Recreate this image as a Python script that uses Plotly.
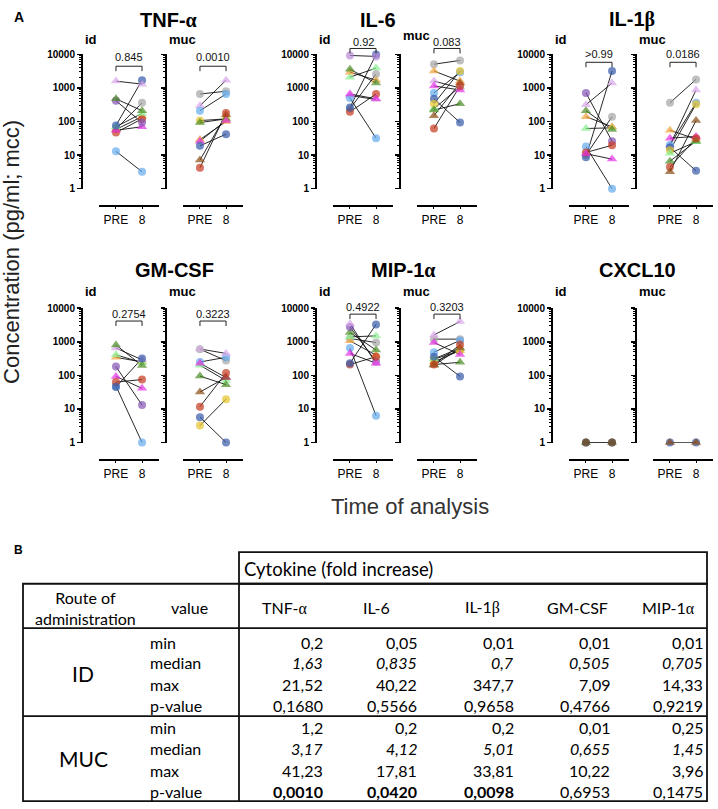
import plotly.graph_objects as go

W, H = 718, 809
TIMES = ["PRE", "8"]
ROUTES = ["id", "muc"]
Y_TICKS = [1, 10, 100, 1000, 10000]
Y_TICKTEXT = ["1", "10", "100", "1000", "10000"]
Y_MINOR = [m * d for d in [1, 10, 100, 1000] for m in range(2, 10)]

# subject marker styles (colour, symbol)
STYLE = {
    "lilacT": ("#D9A6EA", "triangle-up"),
    "lilacC": ("#B98AD9", "circle"),
    "dblue": ("#3558A8", "circle"),
    "gray": ("#A5A5A5", "circle"),
    "green": ("#4B8B23", "triangle-up"),
    "orange": ("#F2A13A", "triangle-up"),
    "magenta": ("#E632E6", "triangle-up"),
    "purple": ("#8452B5", "circle"),
    "red": ("#C4391E", "circle"),
    "lblue": ("#62A9EE", "circle"),
    "lgreen": ("#86F08E", "triangle-up"),
    "brown": ("#8A4B14", "triangle-up"),
    "brownC": ("#7A4A14", "circle"),
    "yellow": ("#E5C32A", "circle"),
}

PANEL_TITLES = ["TNF-α", "IL-6", "IL-1β", "GM-CSF", "MIP-1α", "CXCL10"]
P_ID = ["0.845", "0.92", ">0.99", "0.2754", "0.4922", None]
P_MUC = ["0.0010", "0.083", "0.0186", "0.3223", "0.3203", None]

# ---- TNF-alpha
TNF_ID_SUBJ = ["gray", "orange", "lblue", "red", "magenta", "lgreen", "purple", "green", "dblue", "lilacT"]
TNF_ID_PRE = [60, 58, 13, 47, 55, 70, 415, 475, 76, 1600]
TNF_ID_POST = [360, 140, 3.2, 120, 70, 175, 93, 210, 1700, 1300]
TNF_MUC_SUBJ = ["gray", "lilacT", "lblue", "yellow", "green", "orange", "magenta", "dblue", "brown", "red"]
TNF_MUC_PRE = [660, 295, 210, 107, 93, 29, 26, 19, 7.1, 4.2]
TNF_MUC_POST = [800, 1700, 660, 120, 120, 100, 108, 42, 160, 180]
# ---- IL-6
IL6_ID_SUBJ = ["gray", "lilacT", "lblue", "red", "dblue", "magenta", "lgreen", "orange", "green", "lilacC"]
IL6_ID_PRE = [240, 600, 500, 195, 260, 660, 2100, 2950, 3600, 9300]
IL6_ID_POST = [2600, 450, 32, 660, 10000, 475, 3900, 1700, 1400, 8700]
IL6_MUC_SUBJ = ["lgreen", "gray", "orange", "lilacT", "magenta", "lblue", "dblue", "yellow", "green", "brown", "red"]
IL6_MUC_PRE = [240, 5100, 3200, 1600, 1150, 710, 475, 340, 220, 150, 62]
IL6_MUC_POST = [1100, 6600, 1600, 1000, 870, 2950, 93, 3200, 340, 1400, 1150]
# ---- IL-1beta
IL1B_ID_SUBJ = ["gray", "lgreen", "orange", "green", "lilacT", "purple", "lblue", "dblue", "red", "magenta"]
IL1B_ID_PRE = [10, 62, 140, 210, 315, 710, 18, 8.7, 12, 11]
IL1B_ID_POST = [140, 65, 70, 58, 1400, 26, 1, 3200, 19.6, 7.6]
IL1B_MUC_SUBJ = ["lilacT", "gray", "orange", "magenta", "lblue", "dblue", "yellow", "lgreen", "green", "red", "brown"]
IL1B_MUC_PRE = [20, 360, 55, 32, 20, 17, 14, 11.4, 6.6, 4.4, 3.2]
IL1B_MUC_POST = [870, 1800, 30, 36, 360, 3.4, 330, 25, 26, 32, 107]
# ---- GM-CSF
GM_ID_SUBJ = ["lblue", "orange", "lgreen", "lilacT", "green", "purple", "magenta", "red", "dblue"]
GM_ID_PRE = [48, 345, 410, 650, 800, 183, 93, 63, 45]
GM_ID_POST = [1, 250, 240, 290, 196, 13, 41, 75, 320]
GM_MUC_SUBJ = ["gray", "lblue", "lilacT", "lgreen", "magenta", "green", "brown", "red", "dblue", "yellow"]
GM_MUC_PRE = [600, 250, 610, 200, 230, 95, 32, 11.7, 5.7, 3.2]
GM_MUC_POST = [275, 345, 450, 70, 86, 53, 86, 117, 1, 19.6]
# ---- MIP-1alpha
MIP_ID_SUBJ = ["gray", "orange", "lgreen", "green", "purple", "lilacT", "lblue", "magenta", "red", "dblue"]
MIP_ID_PRE = [1250, 1070, 1400, 1880, 2760, 3460, 650, 450, 210, 230]
MIP_ID_POST = [950, 400, 1500, 570, 260, 230, 6.3, 230, 360, 3300]
MIP_MUC_SUBJ = ["orange", "yellow", "lgreen", "gray", "lblue", "lilacT", "magenta", "dblue", "brown", "green", "red"]
MIP_MUC_PRE = [250, 300, 310, 1200, 490, 1600, 950, 360, 200, 210, 210]
MIP_MUC_POST = [550, 550, 650, 1200, 1100, 4000, 415, 93, 650, 245, 810]
# ---- CXCL10
CX_ID_SUBJ = ["green", "dblue", "brownC"]
CX_ID_PRE = [1, 1, 1]
CX_ID_POST = [1, 1, 1]
CX_MUC_SUBJ = ["dblue", "brown"]
CX_MUC_PRE = [1, 1]
CX_MUC_POST = [1, 1]

PANEL_DATA = [
    ((TNF_ID_SUBJ, TNF_ID_PRE, TNF_ID_POST), (TNF_MUC_SUBJ, TNF_MUC_PRE, TNF_MUC_POST)),
    ((IL6_ID_SUBJ, IL6_ID_PRE, IL6_ID_POST), (IL6_MUC_SUBJ, IL6_MUC_PRE, IL6_MUC_POST)),
    ((IL1B_ID_SUBJ, IL1B_ID_PRE, IL1B_ID_POST), (IL1B_MUC_SUBJ, IL1B_MUC_PRE, IL1B_MUC_POST)),
    ((GM_ID_SUBJ, GM_ID_PRE, GM_ID_POST), (GM_MUC_SUBJ, GM_MUC_PRE, GM_MUC_POST)),
    ((MIP_ID_SUBJ, MIP_ID_PRE, MIP_ID_POST), (MIP_MUC_SUBJ, MIP_MUC_PRE, MIP_MUC_POST)),
    ((CX_ID_SUBJ, CX_ID_PRE, CX_ID_POST), (CX_MUC_SUBJ, CX_MUC_PRE, CX_MUC_POST)),
]

# ---- Table (panel B)
TABLE_COLS = ["TNF-α", "IL-6", "IL-1β", "GM-CSF", "MIP-1α"]
STAT_LABELS = ["min", "median", "max", "p-value"]
ID_MIN = ["0,2", "0,05", "0,01", "0,01", "0,01"]
ID_MEDIAN = ["1,63", "0,835", "0,7", "0,505", "0,705"]
ID_MAX = ["21,52", "40,22", "347,7", "7,09", "14,33"]
ID_P = ["0,1680", "0,5566", "0,9658", "0,4766", "0,9219"]
MUC_MIN = ["1,2", "0,2", "0,2", "0,01", "0,25"]
MUC_MEDIAN = ["3,17", "4,12", "5,01", "0,655", "1,45"]
MUC_MAX = ["41,23", "17,81", "33,81", "10,22", "3,96"]
MUC_P = ["0,0010", "0,0420", "0,0098", "0,6953", "0,1475"]
MUC_P_BOLD = [True, True, True, False, False]

# ---------------- geometry (pixels) ----------------
CF = "Liberation Sans, Arial, sans-serif"
TF = "Lato, Carlito, sans-serif"
ID_AXIS_X = [82, 316, 552]
MUC_DX = 84
ROW_AXIS_TOP = [50, 307]
AXIS_H = 136
XLINE_GAP = 18
TITLE_X = [168, 378, 632, 174, 403, 637]
TITLE_Y = [15, 268]
SUB_Y = [35, 290]
PV_LABEL_Y = [53, 37, 50, 313, 306, None]
BRACKET_Y = [62, 44, 58, 320, 313, None]


def fx(px):
    return px / W


def fy(py):
    return 1 - py / H


def greek(s):
    out = ""
    for ch in s:
        if ch in "αβ":
            out += "<span style='font-family:Liberation Serif'>%s</span>" % ch
        else:
            out += ch
    return out


fig = go.Figure()
axes = {}
annotations = []
shapes = []

k = 0
for p in range(6):
    row, col = divmod(p, 3)
    for r, route in enumerate(ROUTES):
        k += 1
        ax_x = ID_AXIS_X[col] + r * MUC_DX
        top = ROW_AXIS_TOP[row]
        bot = top + AXIS_H
        xn = "xaxis" if k == 1 else "xaxis%d" % k
        yn = "yaxis" if k == 1 else "yaxis%d" % k
        xr = "x" if k == 1 else "x%d" % k
        yr = "y" if k == 1 else "y%d" % k
        axes[xn] = dict(
            domain=[fx(ax_x + 17), fx(ax_x + 77)], anchor="free", position=fy(bot + XLINE_GAP),
            type="category", categoryorder="array", categoryarray=TIMES,
            range=[-0.65, 1.65], showline=True, linewidth=2, linecolor="black",
            ticks="outside", ticklen=2, tickwidth=1, tickcolor="black",
            showgrid=False, zeroline=False,
            tickfont=dict(family=CF, size=12, color="black"), fixedrange=True,
        )
        axes[yn] = dict(
            domain=[fy(bot), fy(top)], anchor="free", position=fx(ax_x),
            type="log", range=[0, 4], tickmode="array", tickvals=Y_TICKS,
            ticktext=["<b>%s</b>" % t for t in Y_TICKTEXT],
            showticklabels=(r == 0), ticks="outside", ticklen=4, tickwidth=1.5,
            tickcolor="black", showline=True, linewidth=2, linecolor="black",
            showgrid=False, zeroline=False, fixedrange=True,
            minor=dict(tickmode="array", tickvals=Y_MINOR, ticks="outside", ticklen=2,
                       tickwidth=1, tickcolor="black", showgrid=False),
            tickfont=dict(family=CF, size=10, color="black"),
        )
        subj, pre, post = PANEL_DATA[p][r]
        for s, a, b in zip(subj, pre, post):
            fig.add_trace(go.Scatter(
                x=TIMES, y=[a, b], mode="lines", xaxis=xr, yaxis=yr,
                line=dict(color="#111111", width=0.9), cliponaxis=False,
                hoverinfo="skip", showlegend=False))
        cols = [STYLE[s][0] for s in subj]
        syms = [STYLE[s][1] for s in subj]
        sizes = [9 if STYLE[s][1] == "triangle-up" else 8 for s in subj]
        fig.add_trace(go.Scatter(
            x=[TIMES[0]] * len(subj) + [TIMES[1]] * len(subj), y=list(pre) + list(post),
            mode="markers", xaxis=xr, yaxis=yr, cliponaxis=False,
            marker=dict(color=cols * 2, symbol=syms * 2, size=sizes * 2, line=dict(width=0)),
            hoverinfo="skip", showlegend=False))
        sy = SUB_Y[row] - (4 if (p == 1 and r == 1) else 0)
        annotations.append(dict(
            text="<b>%s</b>" % route, x=fx(ax_x + 1), y=fy(sy), xref="paper", yref="paper",
            xanchor="left", yanchor="middle", showarrow=False,
            font=dict(family=CF, size=13, color="black")))
        pv = (P_ID if r == 0 else P_MUC)[p]
        if pv is not None:
            by = BRACKET_Y[p]
            shapes.append(dict(
                type="path", xref=xr, yref="paper",
                path="M 0,%f L 0,%f L 1,%f L 1,%f" % (fy(by + 5), fy(by), fy(by), fy(by + 5)),
                line=dict(color="#222222", width=1)))
            annotations.append(dict(
                text=pv, x=0.5, y=fy(PV_LABEL_Y[p]), xref=xr, yref="paper",
                xanchor="center", yanchor="middle", showarrow=False,
                font=dict(family=CF, size=11, color="#111111")))
    annotations.append(dict(
        text="<b>%s</b>" % greek(PANEL_TITLES[p]), x=fx(TITLE_X[p]), y=fy(TITLE_Y[row]),
        xref="paper", yref="paper", xanchor="center", yanchor="middle", showarrow=False,
        font=dict(family=CF, size=20, color="black")))

annotations += [
    dict(text="<b>A</b>", x=fx(19), y=fy(12), xref="paper", yref="paper", showarrow=False,
         xanchor="center", yanchor="middle", font=dict(family=CF, size=14, color="black")),
    dict(text="<b>B</b>", x=fx(18), y=fy(552), xref="paper", yref="paper", showarrow=False,
         xanchor="center", yanchor="middle", font=dict(family=CF, size=12, color="black")),
    dict(text="Concentration (pg/ml; mcc)", x=fx(12), y=fy(250), xref="paper", yref="paper",
         showarrow=False, textangle=-90, xanchor="center", yanchor="middle",
         font=dict(family=CF, size=22, color="#222222")),
    dict(text="Time of analysis", x=fx(410), y=fy(508), xref="paper", yref="paper",
         showarrow=False, xanchor="center", yanchor="middle",
         font=dict(family=CF, size=22, color="#333333")),
]

# ---------------- table ----------------
T_LEFT, T_RIGHT, T_COLX = 23, 707, 239
T_TOP, HDR_TOP, HDR_BOT, SEP, T_BOT = 554, 586, 631, 720, 806
ROW_Y = {"ID": [645, 666, 688, 709], "MUC": [732, 753, 775, 796]}
COL_RIGHT = [325, 419, 516, 612, 705]
HDR_CX = [284, 376, 483, 577, 668]
LBL_X = 148
TLW = 1.8
TCOL = "#111111"


def rect(x0, y0, x1, y1):
    return dict(type="rect", xref="paper", yref="paper", x0=fx(x0), x1=fx(x1),
                y0=fy(y1), y1=fy(y0), line=dict(color=TCOL, width=TLW))


def hline(x0, x1, y):
    return dict(type="line", xref="paper", yref="paper", x0=fx(x0), x1=fx(x1),
                y0=fy(y), y1=fy(y), line=dict(color=TCOL, width=TLW))


shapes += [
    rect(T_COLX, T_TOP, T_RIGHT, HDR_TOP),
    rect(T_LEFT, HDR_TOP, T_RIGHT, T_BOT),
    hline(T_LEFT, T_RIGHT, HDR_BOT),
    hline(T_LEFT, T_RIGHT, SEP),
    dict(type="line", xref="paper", yref="paper", x0=fx(T_COLX), x1=fx(T_COLX),
         y0=fy(T_BOT), y1=fy(HDR_TOP), line=dict(color=TCOL, width=TLW)),
]


def ttext(txt, x, y, anchor="center", size=16):
    return dict(text=txt, x=fx(x), y=fy(y), xref="paper", yref="paper", showarrow=False,
                xanchor=anchor, yanchor="middle", font=dict(family=TF, size=size, color="black"))


annotations.append(ttext("Cytokine (fold increase)", 242, 571, "left", size=18.5))
annotations.append(ttext("Route of<br>administration", 85, 611))
annotations.append(ttext("value", 189, 610))
for c, name in enumerate(TABLE_COLS):
    annotations.append(ttext(greek(name), HDR_CX[c], 610))

annotations.append(ttext("ID", 83, 677, size=21))
annotations.append(ttext("MUC", 83, 763, size=21))

blocks = [
    ("ID", [ID_MIN, ID_MEDIAN, ID_MAX, ID_P], [False] * 5),
    ("MUC", [MUC_MIN, MUC_MEDIAN, MUC_MAX, MUC_P], MUC_P_BOLD),
]
for name, rows, pbold in blocks:
    for i, lab in enumerate(STAT_LABELS):
        y = ROW_Y[name][i]
        annotations.append(ttext(lab, LBL_X, y, "left"))
        for c, v in enumerate(rows[i]):
            t = v
            if lab == "median":
                t = "<i>%s</i>" % v
            if lab == "p-value" and pbold[c]:
                t = "<b>%s</b>" % v
            annotations.append(ttext(t, COL_RIGHT[c], y, "right"))

fig.update_layout(
    width=W, height=H, autosize=False,
    margin=dict(l=0, r=0, t=0, b=0),
    paper_bgcolor="white", plot_bgcolor="rgba(0,0,0,0)",
    showlegend=False, annotations=annotations, shapes=shapes,
    **axes,
)
fig.write_html(
    "out.html",
    config={"displayModeBar": False, "staticPlot": True},
    post_script="document.body.style.margin='0';document.body.style.padding='0';",
)
